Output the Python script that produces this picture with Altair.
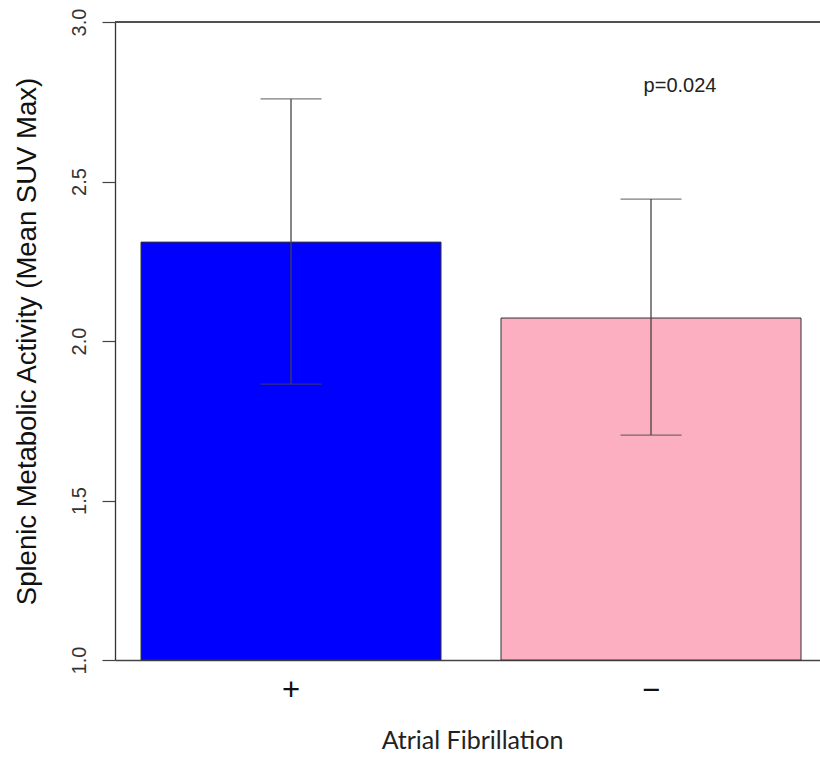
import altair as alt
import pandas as pd

groups = ["+", "\u2212"]
means = [2.31, 2.072]
lower = [1.865, 1.705]
upper = [2.759, 2.445]
colors = ["#0000FF", "#FBAFC0"]
y_ticks = [1.0, 1.5, 2.0, 2.5, 3.0]
p_label = ["p=0.024"]
p_group = ["\u2212"]
p_y = [2.8]

df = pd.DataFrame({"group": groups, "mean": means, "lo": lower, "hi": upper, "color": colors})
ann = pd.DataFrame({"group": p_group, "y": p_y, "label": p_label})

xscale = alt.Scale(domain=groups, paddingInner=0.16667, paddingOuter=0.0625, align=0.578)
yscale = alt.Scale(domain=[1.0, 3.0], nice=False, zero=False)

x_enc = alt.X(
    "group:N",
    scale=xscale,
    sort=groups,
    axis=alt.Axis(
        title="Atrial Fibrillation",
        titleFont="Lato",
        titleFontSize=25,
        titleFontWeight="normal",
        titleColor="#222222",
        titleX=357,
        titleY=80,
        titleAlign="center",
        titleBaseline="middle",
        labelFont="Liberation Sans",
        labelFontSize=31,
        labelColor="#111111",
        labelAngle=0,
        labelBaseline="middle",
        labelPadding=30,
        ticks=False,
        domain=True,
        domainColor="#444444",
        domainWidth=1.3,
        grid=False,
    ),
)

y_axis = alt.Axis(
    title="Splenic Metabolic Activity (Mean SUV Max)",
    titleFont="Liberation Sans",
    titleFontSize=27.5,
    titleFontWeight="normal",
    titleColor="#111111",
    titleAngle=270,
    titleX=-88,
    titleY=319,
    titleAlign="center",
    titleBaseline="middle",
    values=y_ticks,
    format=".1f",
    labelFont="Liberation Sans",
    labelFontSize=20,
    labelColor="#333333",
    labelAngle=270,
    labelAlign="center",
    labelBaseline="bottom",
    labelPadding=13,
    tickSize=13,
    tickColor="#444444",
    tickWidth=1.2,
    domainColor="#333333",
    domainWidth=1.3,
    grid=False,
)

base = alt.Chart(df)

bars = base.mark_bar(stroke="#333333", strokeWidth=1).encode(
    x=x_enc,
    y=alt.Y("mean:Q", scale=yscale, axis=y_axis),
    y2=alt.datum(1.0),
    color=alt.Color("color:N", scale=None, legend=None),
)

err = base.mark_rule(color="#444444", strokeWidth=1.3).encode(
    x=alt.X("group:N", scale=xscale, sort=groups),
    y=alt.Y("lo:Q", scale=yscale),
    y2="hi:Q",
)

cap_lo = base.mark_tick(color="#444444", thickness=1.3, size=61, orient="horizontal").encode(
    x=alt.X("group:N", scale=xscale, sort=groups),
    y=alt.Y("lo:Q", scale=yscale),
)
cap_hi = base.mark_tick(color="#444444", thickness=1.3, size=61, orient="horizontal").encode(
    x=alt.X("group:N", scale=xscale, sort=groups),
    y=alt.Y("hi:Q", scale=yscale),
)

top_line = alt.Chart(df).mark_rule(color="#444444", strokeWidth=1.3).encode(
    y=alt.datum(3.0),
)

text = alt.Chart(ann).mark_text(
    font="Liberation Sans", fontSize=20, color="#222222", dx=29, baseline="middle"
).encode(
    x=alt.X("group:N", scale=xscale, sort=groups),
    y=alt.Y("y:Q", scale=yscale),
    text="label:N",
)

chart = (
    alt.layer(bars, err, cap_lo, cap_hi, top_line, text)
    .properties(
        width=705,
        height=638,
        autosize=alt.AutoSizeParams(type="none"),
        padding={"left": 115, "top": 22, "right": 0, "bottom": 98},
        background="white",
    )
    .configure_view(stroke=None)
)

chart.save("out.html", embed_options={"renderer": "svg", "actions": False})
